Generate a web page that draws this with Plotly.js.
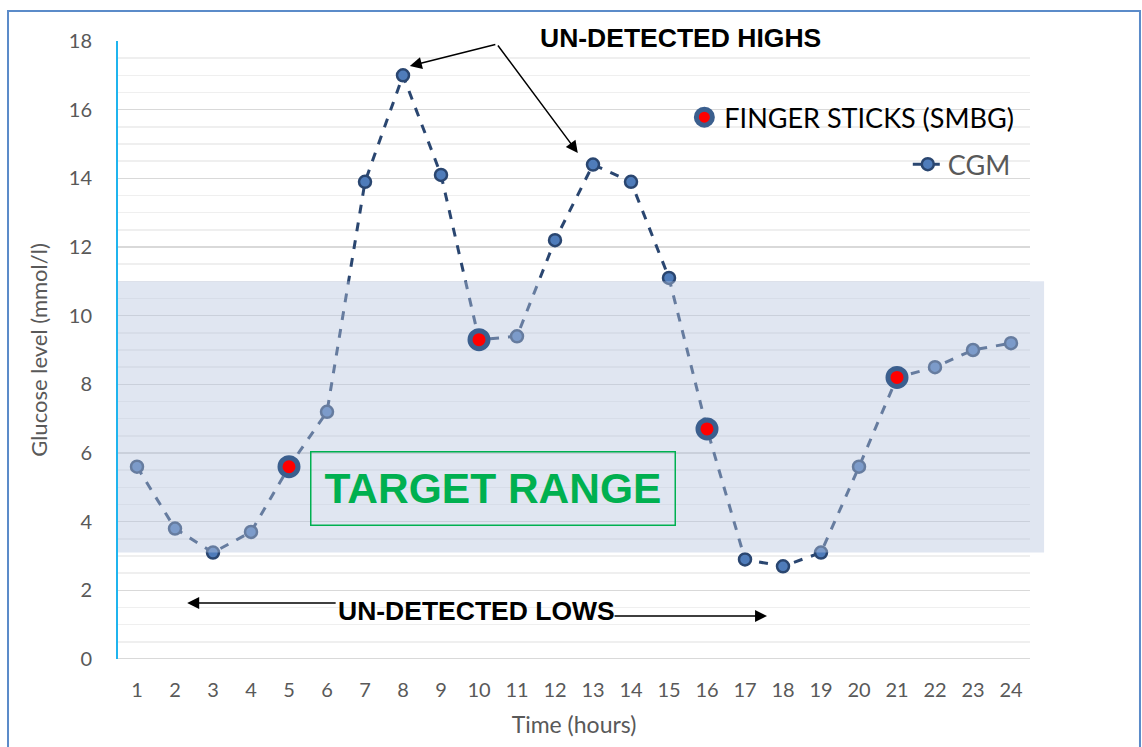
<!DOCTYPE html>
<html><head><meta charset="utf-8">
<script src="https://cdn.plot.ly/plotly-3.0.1.min.js"></script>
<style>html,body{margin:0;padding:0;background:#fff}#chart{width:1142px;height:747px}</style>
</head><body><div id="chart"></div>
<script>
const hours = [1,2,3,4,5,6,7,8,9,10,11,12,13,14,15,16,17,18,19,20,21,22,23,24];
const cgm = [5.6,3.8,3.1,3.7,5.6,7.2,13.9,17.0,14.1,9.3,9.4,12.2,14.4,13.9,11.1,6.7,2.9,2.7,3.1,5.6,8.2,8.5,9.0,9.2];
const smbgHours = [5,10,16,21];
const smbgValues = [5.6,9.3,6.7,8.2];
const targetLow = 3.1;
const targetHigh = 11;

const traces = [
  {x: hours, y: cgm, type:'scatter', mode:'lines+markers', name:'CGM', legend:'legend2',
   line:{color:'#2a4670', width:3, dash:'dash'},
   marker:{size:12, color:'#4f7cba', line:{color:'#2a4670', width:2.5}}},
  {x:[hours[0]-0.5, hours[hours.length-1]+0.5, hours[hours.length-1]+0.5, hours[0]-0.5, hours[0]-0.5],
   y:[targetLow,targetLow,targetHigh,targetHigh,targetLow], type:'scatter', mode:'lines', fill:'toself',
   fillcolor:'rgba(182,198,222,0.43)', line:{width:0}, showlegend:false, hoverinfo:'skip'},
  {x: smbgHours, y: smbgValues, type:'scatter', mode:'markers', name:'FINGER STICKS (SMBG)', legend:'legend',
   marker:{size:18, color:'#ff0000', line:{color:'#3b5f8e', width:5}}}
];

const layout = {
  width:1142, height:747,
  margin:{l:118, r:112, t:41, b:88},
  paper_bgcolor:'#ffffff', plot_bgcolor:'#ffffff',
  font:{family:'Lato, "Open Sans", sans-serif', color:'#595959'},
  xaxis:{range:[0.5,24.5], tickvals:hours, ticktext:hours.map(String), showgrid:false, zeroline:false,
    showline:false, ticks:'outside', ticklen:13, tickcolor:'rgba(0,0,0,0)',
    tickfont:{size:20, color:'#595959'},
    title:{text:'Time (hours)', font:{size:23, color:'#595959'}, standoff:16}},
  yaxis:{range:[0,18], dtick:2, tick0:0, showgrid:true, gridcolor:'#d9d9d9', gridwidth:1.5,
    zeroline:false, showline:true, linecolor:'#1fb4ee', linewidth:2,
    ticks:'outside', ticklen:20, tickcolor:'rgba(0,0,0,0)',
    tickfont:{size:20, color:'#595959'},
    minor:{dtick:0.5, showgrid:true, gridcolor:'#efefef', gridwidth:1.5},
    title:{text:'Glucose level (mmol/l)', font:{size:22, color:'#595959'}, standoff:15}},
  legend:{x:0.621, y:0.876, xanchor:'left', yanchor:'middle', bgcolor:'rgba(0,0,0,0)',
    font:{size:27, color:'#000000', family:'Lato, "Open Sans", sans-serif'}},
  legend2:{x:0.866, y:0.8, xanchor:'left', yanchor:'middle', bgcolor:'rgba(0,0,0,0)',
    font:{size:27, color:'#595959', family:'Lato, "Open Sans", sans-serif'}},
  shapes:[
    {type:'rect', xref:'paper', yref:'y', x0:1.0, x1:1.0154, y0:targetLow, y1:targetHigh,
     fillcolor:'rgba(182,198,222,0.43)', line:{width:0}, layer:'above'},
    {type:'line', xref:'paper', yref:'y', x0:0, x1:1, y0:0, y1:0, line:{color:'#d9d9d9', width:2}, layer:'below'},
    {type:'rect', xref:'paper', yref:'paper', x0:-0.1206, x1:1.1206, y0:-0.2, y1:1.0485,
     line:{color:'#5b8bc9', width:2}, fillcolor:'rgba(0,0,0,0)', layer:'below'}
  ],
  annotations:[
    {x:0.617, y:1.005, xref:'paper', yref:'paper', xanchor:'center', yanchor:'middle',
     text:'<b>UN-DETECTED HIGHS</b>', showarrow:false,
     font:{family:'"Liberation Sans", Arial, sans-serif', size:26.5, color:'#000'}},
    {x:8.18, y:17.27, ax:87, ay:-22, text:'', showarrow:true, arrowhead:2, arrowsize:1.6, arrowwidth:1.5, arrowcolor:'#000'},
    {x:12.6, y:14.74, ax:-81, ay:-109, text:'', showarrow:true, arrowhead:2, arrowsize:1.6, arrowwidth:1.5, arrowcolor:'#000'},
    {x:9.93, y:1.4, text:'<b>UN-DETECTED LOWS</b>', showarrow:false,
     font:{family:'"Liberation Sans", Arial, sans-serif', size:26.5, color:'#000'}},
    {x:2.32, y:1.63, ax:150, ay:0, text:'', showarrow:true, arrowhead:2, arrowsize:1.6, arrowwidth:1.5, arrowcolor:'#000'},
    {x:17.58, y:1.25, ax:-154, ay:0, text:'', showarrow:true, arrowhead:2, arrowsize:1.6, arrowwidth:1.5, arrowcolor:'#000'},
    {x:10.38, y:4.98, text:'<b>TARGET RANGE</b>', showarrow:false, width:363, height:72,
     bordercolor:'#00b050', borderwidth:1.5, borderpad:0,
     font:{family:'"Liberation Sans", Arial, sans-serif', size:42.5, color:'#00b050'}}
  ]
};
Plotly.newPlot('chart', traces, layout, {displayModeBar:false, staticPlot:true});
</script></body></html>
